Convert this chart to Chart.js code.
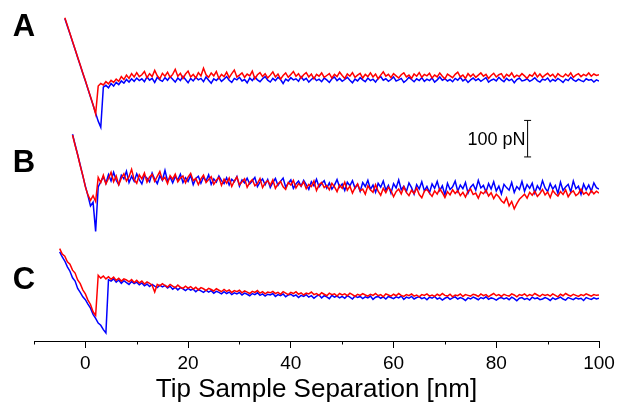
<!DOCTYPE html>
<html lang="en">
<head>
<meta charset="UTF-8">
<title>Tip Sample Separation</title>
<script src="https://cdn.jsdelivr.net/npm/chart.js"></script>
<style>
  body { margin: 0; background: #fff; }
  #wrap { width: 619px; height: 412px; }
</style>
</head>
<body>
<div id="wrap"><canvas id="forceChart" width="619" height="412"></canvas></div>
<script>
// separation grid (nm)
const xStep = 0.5;
const xStart = [-4.0, -2.5, -5.0];       // first sample of A, B, C
const panelNames = ['A', 'B', 'C'];
const panelOffsets = [720, 440, 120];    // vertical offset of each panel (pN)

// force relative to panel baseline (pN), one value per 0.5 nm
const redA = [
  165, 144, 122, 101, 79, 57, 36, 14, -7, -29,
  -51, -73, -98, -22, -15, -19, -10, -16, -6, -12,
  -3, -9, 4, -4, 8, -1, 12, 3, 15, 4,
  9, 18, 1, 12, 4, 21, 6, -2, 13, 5,
  16, 2, 10, 24, 5, 13, -1, 11, 19, 3,
  10, 0, 15, 6, 27, 9, 2, 14, 6, 18,
  -1, 10, 4, 16, 1, 12, 22, 3, 8, 14,
  2, 11, 6, 19, -2, 9, 15, 4, 12, 0,
  8, 17, 3, 11, -3, 7, 14, 2, 10, 18,
  5, 12, 0, 9, 15, 3, 11, -2, 10, 5,
  14, 2, 7, 12, 0, 10, 4, 16, 7, -1,
  11, 5, 15, 2, 8, 13, 0, 10, 4, 14,
  3, 11, -2, 8, 17, 5, 10, 1, 12, 6,
  0, 9, 14, 3, 8, -1, 11, 5, 15, 2,
  10, 6, 13, 0, 8, 3, 14, 5, -2, 11,
  6, 1, 10, 16, 3, 8, -1, 12, 4, 11,
  2, 8, 14, 5, 10, -1, 7, 13, 3, 9,
  12, 0, 10, 5, 14, 2, 8, 4, 12, 6,
  -1, 9, 5, 15, 3, 11, 2, 8, 13, 5,
  10, 1, 12, 6, 3, 11, 5, 14, 2, 8,
  12, 4, 10, 6, 14, 5, 11, 7, 9
];
const blueA = [
  163, 142, 121, 99, 78, 56, 35, 13, -8, -30,
  -52, -74, -96, -118, -135, -25, -20, -27, -15, -22,
  -12, -18, -8, -14, -4, -11, -2, -9, 0, -7,
  -2, -10, 3, -6, -1, -12, 2, -5, -9, 1,
  -6, 4, -3, -11, 0, -7, 5, -4, -13, -1,
  -8, 2, -5, -1, -10, 3, -6, -14, -2, -7,
  1, -9, -3, 4, -6, -12, -1, -5, 2, -8,
  -4, -13, 0, -7, 3, -5, -10, -2, 4, -6,
  -11, -1, -7, 2, -4, -15, -3, -8, 1, -5,
  -2, -9, 4, -6, -1, -11, -4, 2, -7, -3,
  -10, 0, -5, -12, -2, 3, -7, -1, -9, -4,
  2, -6, -13, -3, -8, 1, -5, -10, 0, -7,
  -3, -11, -1, 4, -6, -2, -9, -4, 3, -8,
  -5, -1, -12, -6, 2, -4, -10, -2, -7, 1,
  -9, -3, -7, 0, -11, -5, 3, -6, -2, -8,
  -4, -10, -1, -6, 2, -8, -3, -12, -5, 0,
  -7, -2, -9, -4, 1, -11, -6, -3, -8, 2,
  -5, -10, -1, -7, -3, -13, -4, 0, -8, -6,
  -2, -9, -5, 1, -7, -11, -3, -6, 0, -10,
  -4, -8, -1, -6, -12, -3, -7, 2, -5, -9,
  -3, -7, -10, -2, -6, -4, -11, -5, -8
];
const redB = [
  124, 96, 70, 40, 14, -18, -40, -55, -42, -58,
  8, -6, 14, -10, 5, 22, -4, 12, -12, 6,
  18, -2, 10, 30, 2, -8, 15, 4, 20, -5,
  9, 16, -3, 11, 24, 1, 8, -9, 13, 3,
  17, -4, 6, 12, -7, 9, 19, -1, 5, -12,
  4, 14, -6, 2, 10, -11, 0, 8, -14, 3,
  -8, 6, -17, -2, 9, -12, -4, 4, -19, -6,
  2, -15, -9, 5, -20, -7, -1, -14, 1, -22,
  -10, -3, -18, -25, -6, -13, 0, -21, -9, -16,
  -4, -23, -11, -17, -2, -28, -12, -6, -20, -14,
  -26, -8, -18, -31, -13, -22, -5, -27, -16, -35,
  -20, -10, -29, -24, -38, -15, -26, -33, -12, -30,
  -41, -22, -34, -19, -28, -45, -31, -24, -37, -18,
  -33, -42, -27, -36, -21, -39, -48, -30, -25, -35,
  -44, -29, -38, -23, -34, -47, -31, -40, -26, -36,
  -28, -42, -33, -46, -30, -24, -39, -35, -49, -32,
  -37, -27, -43, -34, -50, -38, -45, -56, -62, -48,
  -70, -58, -78, -64, -52, -45, -38, -49, -33, -41,
  -30, -44, -36, -25, -40, -32, -47, -28, -37, -43,
  -31, -39, -26, -45, -34, -29, -42, -36, -24, -38,
  -33, -41, -28, -37, -30, -35
];
const blueB = [
  126, 98, 70, 42, 12, -16, -42, -70, -60, -140,
  -18, -4, 10, -8, 16, -2, 22, 0, -12, 14,
  4, 25, -6, 11, -3, 18, 2, -10, 13, 6,
  -4, 20, 3, -9, 12, 0, 27, -2, 9, -7,
  10, 1, 17, -6, 7, -3, 14, -12, 5, 11,
  -8, 9, -2, 15, -11, 4, -5, 12, -1, -9,
  7, -13, 3, -4, 10, -16, 1, -7, 6, -10,
  -2, 8, -17, -5, 4, -12, 2, -20, -6, 5,
  -14, -3, 6, -19, -8, 1, -22, -10, -2, -16,
  0, -12, -25, -4, -15, 3, -18, -9, -1, -21,
  -7, -24, -13, 2, -19, -10, -28, -5, -15, -1,
  -22, -11, -30, -6, -17, 0, -25, -13, -33, -8,
  -19, -2, -27, -14, -35, -9, -21, 1, -26, -16,
  -31, -7, -20, -38, -12, -24, -4, -29, -17, -34,
  -10, -22, -3, -28, -15, -40, -8, -25, -18, -2,
  -30, -13, -23, -6, -35, -19, -11, -27, 0, -21,
  -14, -32, -9, -24, -4, -29, -16, -37, -11, -20,
  -27, -6, -33, -17, -25, -3, -30, -12, -22, -8,
  -35, -15, -26, -1, -21, -31, -9, -24, -14, -36,
  -5, -28, -18, -11, -32, -2, -23, -16, -38, -10,
  -26, -13, -30, -7, -20, -24
];
const redC = [
  133, 118, 112, 97, 90, 74, 66, 47, 37, 20,
  9, -8, -20, -40, -50, 60, 52, 58, 50, 56,
  49, 55, 46, 52, 44, 50, 47, 42, 48, 40,
  46, 39, 44, 36, 42, 38, 33, 14, 35, 31,
  37, 32, 28, 35, 30, 26, 33, 27, 24, 30,
  25, 29, 22, 27, 20, 26, 23, 18, 24, 21,
  17, 23, 19, 15, 21, 16, 20, 13, 18, 15,
  19, 12, 17, 14, 10, 16, 13, 18, 11, 15,
  9, 14, 12, 16, 10, 13, 8, 15, 11, 7,
  13, 10, 15, 8, 12, 6, 11, 9, 14, 7,
  10, 5, 12, 8, 4, 11, 7, 9, 3, 10,
  6, 9, 4, 11, 7, 2, 8, 5, 10, 6,
  3, 8, 5, 10, 4, 7, 1, 9, 6, 3,
  8, 4, 10, 5, 2, 7, 4, 9, 3, 6,
  1, 7, 5, 9, 3, 6, 2, 8, 4, 10,
  5, 3, 8, 1, 6, 4, 9, 2, 7, 5,
  3, 8, 6, 2, 9, 4, 7, 1, 6, 10,
  4, 7, 2, 8, 5, 3, 9, 6, 1, 7,
  5, 9, 3, 7, 4, 10, 6, 2, 8, 5,
  7, 3, 9, 5, 1, 8, 4, 10, 6, 3,
  8, 5, 2, 7, 4, 9, 6, 3, 7, 5,
  6
];
const blueC = [
  124, 110, 99, 83, 71, 53, 44, 24, 13, 1,
  -7, -19, -30, -47, -58, -71, -77, -89, -98, 48,
  44, 50, 41, 47, 38, 45, 40, 35, 43, 37,
  41, 34, 39, 31, 36, 29, 35, 30, 26, 33,
  28, 32, 25, 30, 22, 27, 20, 26, 23, 18,
  24, 19, 22, 15, 21, 17, 13, 19, 14, 18,
  11, 16, 13, 9, 15, 10, 14, 7, 12, 9,
  13, 6, 11, 8, 4, 10, 7, 12, 5, 9,
  3, 8, 6, 10, 2, 7, 4, 9, 1, 6,
  8, 3, 6, -1, 5, 2, 7, 0, 4, -3,
  3, 6, -2, 4, 1, -4, 5, 0, 3, -2,
  2, -3, 4, 0, -5, 3, -1, 2, -4, 1,
  -2, 3, -6, 0, 2, -3, 1, -5, 2, -1,
  -4, 1, -2, 3, -6, 0, -3, 2, -5, -1,
  1, -4, -1, -7, 0, -3, 2, -5, -2, -8,
  -3, 0, -6, -2, 1, -5, -1, -4, -9, -2,
  -5, 0, -3, -7, -1, -4, 1, -6, -2, -4,
  -8, -3, -1, -5, -2, -7, 0, -4, -10, -3,
  -1, -6, -3, -8, 0, -4, -2, -7, -5, -1,
  -4, -9, -2, -6, -3, 0, -5, -8, -1, -4,
  -7, -2, -5, -3, -9, -1, -4, -6, -2, -5,
  -3
];

// scale bar: 100 pN
const scaleBarX = 86.1;
const scaleBarFrom = 504;
const scaleBarSize = 100;

const redSeries = [redA, redB, redC];
const blueSeries = [blueA, blueB, blueC];

function toPoints(start, offset, values) {
  return values.map((v, i) => ({ x: start + i * xStep, y: offset + v }));
}

const FONT = '"Liberation Sans", Arial, Helvetica, sans-serif';

const datasets = [];
panelNames.forEach((name, p) => {
  datasets.push({
    label: name + ' red',
    data: toPoints(xStart[p], panelOffsets[p], redSeries[p]),
    borderColor: '#ff0000',
    borderWidth: 1.5,
    pointRadius: 0
  });
  datasets.push({
    label: name + ' blue',
    data: toPoints(xStart[p], panelOffsets[p], blueSeries[p]),
    borderColor: '#0000ff',
    borderWidth: 1.5,
    pointRadius: 0
  });
});
datasets.push({
  label: 'scale',
  data: [{ x: scaleBarX, y: scaleBarFrom }, { x: scaleBarX, y: scaleBarFrom + scaleBarSize }],
  borderColor: '#000',
  borderWidth: 1,
  pointStyle: 'line',
  pointRadius: 3.5,
  pointBorderColor: '#000',
  pointBorderWidth: 1
});

// panel letters, scale bar text and the short minor ticks
const decorations = {
  id: 'decorations',
  afterDraw(chart) {
    const { ctx, scales: { x, y }, chartArea } = chart;
    ctx.save();
    ctx.fillStyle = '#000';
    ctx.strokeStyle = '#000';
    ctx.lineWidth = 1;

    // minor ticks
    [-10, 10, 30, 50, 70, 90].forEach(v => {
      const px = Math.round(x.getPixelForValue(v)) + 0.5;
      ctx.beginPath();
      ctx.moveTo(px, chartArea.bottom);
      ctx.lineTo(px, chartArea.bottom + 3.5);
      ctx.stroke();
    });

    // panel letters
    ctx.font = 'bold 31px ' + FONT;
    ctx.textAlign = 'center';
    ctx.textBaseline = 'middle';
    const letterY = [27, 163, 280];
    panelNames.forEach((n, p) => ctx.fillText(n, 24, letterY[p]));

    // scale bar label
    ctx.font = '18px ' + FONT;
    ctx.textAlign = 'right';
    ctx.fillText('100 pN', x.getPixelForValue(scaleBarX) - 2,
      y.getPixelForValue(scaleBarFrom + scaleBarSize / 2) + 1);
    ctx.restore();
  }
};

new Chart(document.getElementById('forceChart').getContext('2d'), {
  type: 'line',
  data: { datasets: datasets },
  options: {
    responsive: false,
    animation: false,
    parsing: false,
    layout: { padding: { left: 34, right: 20, top: 0, bottom: 0 } },
    scales: {
      x: {
        type: 'linear',
        min: -10,
        max: 100,
        afterFit(scale) { scale.height = 71; },
        border: { color: '#000', width: 1 },
        grid: {
          drawOnChartArea: false,
          tickLength: 7,
          tickColor: c => (c.tick && c.tick.value % 20 === 0) ? '#000' : 'rgba(0,0,0,0)'
        },
        ticks: {
          stepSize: 10,
          padding: 4,
          color: '#000',
          font: { family: FONT, size: 19 },
          maxRotation: 0,
          autoSkip: false,
          callback: v => (v % 20 === 0 ? String(v) : '')
        },
        title: {
          display: true,
          text: 'Tip Sample Separation [nm]',
          color: '#000',
          font: { family: FONT, size: 26 },
          padding: { top: 0, bottom: 7 }
        }
      },
      y: {
        display: false,
        min: 0,
        max: 920
      }
    },
    plugins: {
      legend: { display: false },
      tooltip: { enabled: false }
    }
  },
  plugins: [decorations]
});
</script>
</body>
</html>
